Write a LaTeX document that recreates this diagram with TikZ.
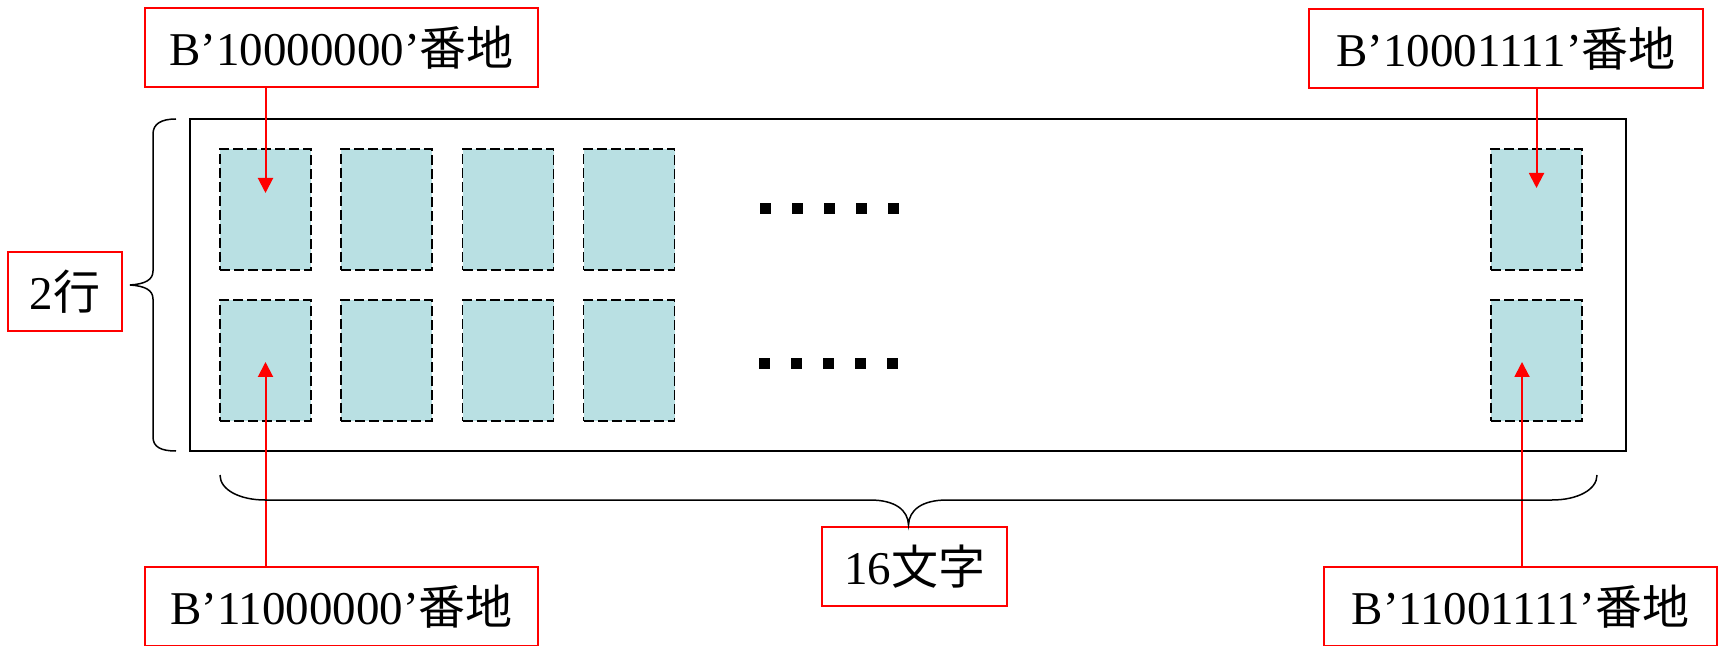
\documentclass[tikz,border=0pt]{standalone}
\usepackage{fontspec}
\setmainfont{Liberation Serif}
\newfontfamily\cjk{Noto Sans CJK JP}
\usetikzlibrary{arrows.meta}
\definecolor{cellblue}{RGB}{185,224,227}
\tikzset{
  lab/.style={draw=red, line width=0.9pt, minimum height=39.5pt, inner sep=0pt, font=\fontsize{23.5}{28}\selectfont},
  cellbox/.style={draw=black, fill=cellblue, dash pattern=on 5pt off 2pt, line width=0.8pt, minimum width=45.5pt, minimum height=60.5pt, inner sep=0pt},
  redarrow/.style={draw=red, line width=1pt, -{Triangle[width=7.5pt,length=7.5pt]}},
  bracel/.style={draw=black, line width=0.75pt},
  dotsq/.style={fill=black, minimum size=5.5pt, inner sep=0pt}
}
\begin{document}
\begin{tikzpicture}[x=0.5pt,y=-0.5pt]
\useasboundingbox (0,0) rectangle (1723,646);
% frame
\node[draw=black, line width=0.75pt, minimum width=718pt, minimum height=166pt, inner sep=0pt] (frame) at (908,285) {};
% cells
\foreach \cx [count=\i] in {265.5,386.5,508,629,1536.5}{
  \node[cellbox] (r1c\i) at (\cx,209.5) {};
  \node[cellbox] (r2c\i) at (\cx,360.5) {};
}
% dots
\foreach \dx [count=\i] in {765.5,797.5,829.5,861.5,893.5}{
  \node[dotsq] (d1\i) at (\dx,208.5) {};
  \node[dotsq] (d2\i) at (\dx-1,363.5) {};
}
% labels
\node[lab, minimum width=196.5pt] (tl) at (341.5,47.5) {B’10000000’\cjk 番地};
\node[lab, minimum width=197pt] (tr) at (1506,48.5) {B’10001111’\cjk 番地};
\node[lab, minimum width=196.5pt] (bl) at (341.5,606.5) {B’11000000’\cjk 番地};
\node[lab, minimum width=196.5pt] (br) at (1520.5,606.5) {B’11001111’\cjk 番地};
\node[lab, minimum width=57pt] (rows) at (65,291.5) {2\cjk 行};
\node[lab, minimum width=92.5pt] (chars) at (914.5,566.5) {16\cjk 文字};
% arrows
\coordinate (a1) at (265.5,193);
\coordinate (a2) at (1536.5,188);
\coordinate (a3) at (265.5,362);
\coordinate (a4) at (1522,362);
\draw[redarrow] (tl.south -| a1) -- (a1);
\draw[redarrow] (tr.south -| a2) -- (a2);
\draw[redarrow] (bl.north -| a3) -- (a3);
\draw[redarrow] (br.north -| a4) -- (a4);
% left brace
\draw[bracel] (176,119) .. controls (161,119) and (153,124) .. (153,134) -- (153,271)
  .. controls (153,280) and (145,284) .. (130,285)
  .. controls (145,286) and (153,290) .. (153,299) -- (153,437)
  .. controls (153,447) and (161,451) .. (176,451);
% bottom brace
\draw[bracel] (220,475) .. controls (220,490) and (240,500) .. (265,500) -- (870,500)
  .. controls (895,500) and (908,510) .. (908.5,525)
  .. controls (909,510) and (922,500) .. (947,500) -- (1552,500)
  .. controls (1577,500) and (1597,490) .. (1597,475);
\end{tikzpicture}
\end{document}
